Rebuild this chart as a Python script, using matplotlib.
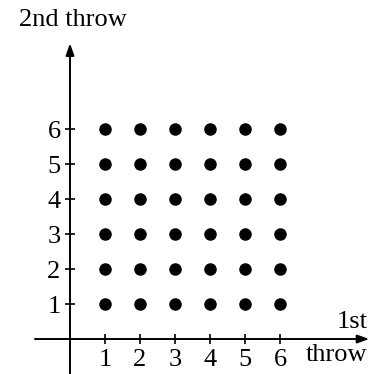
import numpy as np
import matplotlib.pyplot as plt

# outcomes of two dice throws
first_throw = [1, 2, 3, 4, 5, 6]
second_throw = [1, 2, 3, 4, 5, 6]
tick_labels = ["1", "2", "3", "4", "5", "6"]

X, Y = np.meshgrid(first_throw, second_throw)

plt.rcParams["font.family"] = ["Liberation Serif", "DejaVu Serif"]

fig = plt.figure(figsize=(3.85, 3.74), dpi=100)
ax = fig.add_axes([0, 0, 1, 1])
ax.set_xlim(-2, 9)
ax.set_ylim(-1.0, 9.69)

ax.plot(X.ravel(), Y.ravel(), "o", color="black", markersize=8)

# axes as arrows
arrow = dict(arrowstyle="-|>,head_length=0.7,head_width=0.25",
             color="black", lw=1.4, shrinkA=0, shrinkB=0)
ax.annotate("", xy=(8.55, 0), xytext=(-1.0, 0), arrowprops=arrow)
ax.annotate("", xy=(0, 8.45), xytext=(0, -1.1), arrowprops=arrow)

for s in ax.spines.values():
    s.set_visible(False)
ax.spines["left"].set_position(("data", 0))
ax.spines["bottom"].set_position(("data", 0))

ax.set_xticks(first_throw)
ax.set_xticklabels(tick_labels)
ax.set_yticks(second_throw)
ax.set_yticklabels(tick_labels)
ax.tick_params(direction="inout", length=7.5, width=1.2, labelsize=19)
ax.tick_params(axis="x", pad=3.5)
ax.tick_params(axis="y", pad=3)

ax.text(0.08, 9.12, "2nd throw", fontsize=19, ha="center", va="center")
ax.text(8.5, 0.5, "1st", fontsize=19, ha="right", va="center")
ax.text(8.5, -0.47, "throw", fontsize=19, ha="right", va="center")

fig.savefig("out.png", dpi=100)
